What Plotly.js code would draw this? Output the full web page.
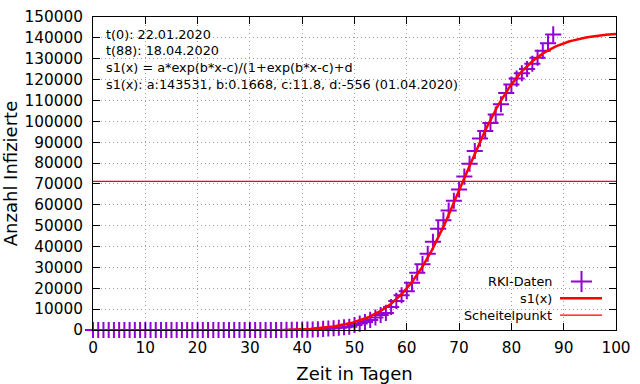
<!DOCTYPE html>
<html><head><meta charset="utf-8">
<script src="https://cdn.plot.ly/plotly-3.0.1.min.js"></script>
<style>html,body{margin:0;padding:0;background:#fff}#chart{width:640px;height:384px}</style>
</head><body><div id="chart"></div>
<script>
// Day index since t(0)
const days = [0,1,2,3,4,5,6,7,8,9,10,11,12,13,14,15,16,17,18,19,20,21,22,23,24,25,26,27,28,29,
  30,31,32,33,34,35,36,37,38,39,40,41,42,43,44,45,46,47,48,49,50,51,52,53,54,55,56,57,58,59,
  60,61,62,63,64,65,66,67,68,69,70,71,72,73,74,75,76,77,78,79,80,81,82,83,84,85,86,87,88];
// RKI cumulative infections
const rkiCases = [0,0,0,0,0,1,4,4,4,5,8,10,12,12,12,12,13,13,14,14,16,16,16,16,16,16,16,16,16,16,
  16,16,16,16,18,21,26,53,66,117,150,188,240,349,534,684,847,1112,1296,1567,2369,3062,3795,4838,6012,7156,8198,10999,13957,16662,
  18610,22672,27436,31554,36508,42288,48582,52547,57298,61913,67366,73522,79696,85778,91714,95391,99225,103228,108202,113525,
  117658,120479,123016,125098,127584,130450,133830,137439,141672];
// Fit parameters of s1(x) = a*exp(b*x-c)/(1+exp(b*x-c))+d, as printed on the chart
const fitA = 143531;
const fitB = 0.1668;
const fitC = 11.8;
const fitD = -556;
const xTicks = [0,10,20,30,40,50,60,70,80,90,100];
const yTicks = [0,10000,20000,30000,40000,50000,60000,70000,80000,90000,100000,110000,120000,130000,140000,150000];
const infoLines = [
  "t(0): 22.01.2020",
  "t(88): 18.04.2020",
  "s1(x) = a*exp(b*x-c)/(1+exp(b*x-c)+d",
  "s1(x): a:143531, b:0.1668, c:11.8, d:-556 (01.04.2020)"
];
const legendLabels = ["RKI-Daten", "s1(x)", "Scheitelpunkt"];
const xTitle = "Zeit in Tagen";
const yTitle = "Anzahl Infizierte";

const purple = '#9400D3';
const red = '#FF0000';
const FONT = '"DejaVu Sans", "Liberation Sans", sans-serif';

// fitted curve from the printed parameters
const fitX = [], fitY = [];
for (let i = 0; i <= 400; i++) {
  const x = i * 0.25;
  const e = Math.exp(fitB * x - fitC);
  fitX.push(x);
  fitY.push(fitA * e / (1 + e) + fitD);
}
const vertexY = fitA / 2 + fitD;

const traces = [
  {x: days, y: rkiCases, type: 'scatter', mode: 'markers', name: legendLabels[0],
   cliponaxis: false,
   marker: {symbol: 'cross-thin', size: 11.5, color: purple, line: {color: purple, width: 2}}},
  {x: fitX, y: fitY, type: 'scatter', mode: 'lines', name: legendLabels[1],
   line: {color: red, width: 2.5}},
  {x: [xTicks[0], xTicks[xTicks.length - 1]], y: [vertexY, vertexY], type: 'scatter', mode: 'lines',
   name: legendLabels[2], line: {color: red, width: 1.2}}
];

// pixel helpers for decoration placement (paper coords)
const L = 93, R = 24, T = 17, B = 54, W = 640, H = 384;
const pw = W - L - R, ph = H - T - B;
const px = v => (v - L) / pw;
const py = v => (H - B - v) / ph;

const annotations = [];
const infoY = [34, 51, 67.7, 84];
infoLines.forEach((t, i) => annotations.push({
  xref: 'paper', yref: 'paper', x: px(104), y: py(infoY[i]), xanchor: 'left', yanchor: 'middle',
  text: t, showarrow: false, font: {family: FONT, size: 12.8, color: '#000'}
}));
const legY = [281.5, 298.3, 315.2];
legendLabels.forEach((t, i) => annotations.push({
  xref: 'paper', yref: 'paper', x: px(554), y: py(legY[i]), xanchor: 'right', yanchor: 'middle',
  text: t, showarrow: false, font: {family: FONT, size: 12.8, color: '#000'}
}));

const shapes = [
  {type: 'line', xref: 'paper', yref: 'paper', x0: px(571), x1: px(592), y0: py(legY[0]), y1: py(legY[0]),
   line: {color: purple, width: 2}},
  {type: 'line', xref: 'paper', yref: 'paper', x0: px(581.5), x1: px(581.5), y0: py(legY[0] - 10.5), y1: py(legY[0] + 10.5),
   line: {color: purple, width: 2}},
  {type: 'line', xref: 'paper', yref: 'paper', x0: px(560), x1: px(602), y0: py(legY[1]), y1: py(legY[1]),
   line: {color: red, width: 2.5}},
  {type: 'line', xref: 'paper', yref: 'paper', x0: px(560), x1: px(602), y0: py(legY[2]), y1: py(legY[2]),
   line: {color: red, width: 1.2}}
];

const axisCommon = {
  ticks: 'inside', ticklen: 7, tickcolor: '#000', tickwidth: 1,
  showline: true, linecolor: '#000', linewidth: 1, mirror: 'ticks',
  showgrid: true, gridcolor: '#a0a0a0', griddash: '1px,3px', gridwidth: 1,
  zeroline: false, automargin: false,
  tickfont: {family: FONT, size: 15.3, color: '#000'}
};

const layout = {
  width: W, height: H,
  margin: {l: L, r: R, t: T, b: B, pad: 0},
  paper_bgcolor: '#fff', plot_bgcolor: '#fff',
  showlegend: false,
  font: {family: FONT, color: '#000'},
  xaxis: Object.assign({}, axisCommon, {
    range: [0, 100], tickvals: xTicks, ticktext: xTicks.map(String),
    ticklabelstandoff: 4,
    title: {text: xTitle, font: {family: FONT, size: 18, color: '#000'}, standoff: 13}
  }),
  yaxis: Object.assign({}, axisCommon, {
    range: [0, 150000], tickvals: yTicks, ticktext: yTicks.map(String),
    ticklabelstandoff: 6,
    title: {text: yTitle, font: {family: FONT, size: 18, color: '#000'}, standoff: 2}
  }),
  annotations: annotations,
  shapes: shapes
};

Plotly.newPlot('chart', traces, layout, {displayModeBar: false, staticPlot: true});
</script>
</body></html>
